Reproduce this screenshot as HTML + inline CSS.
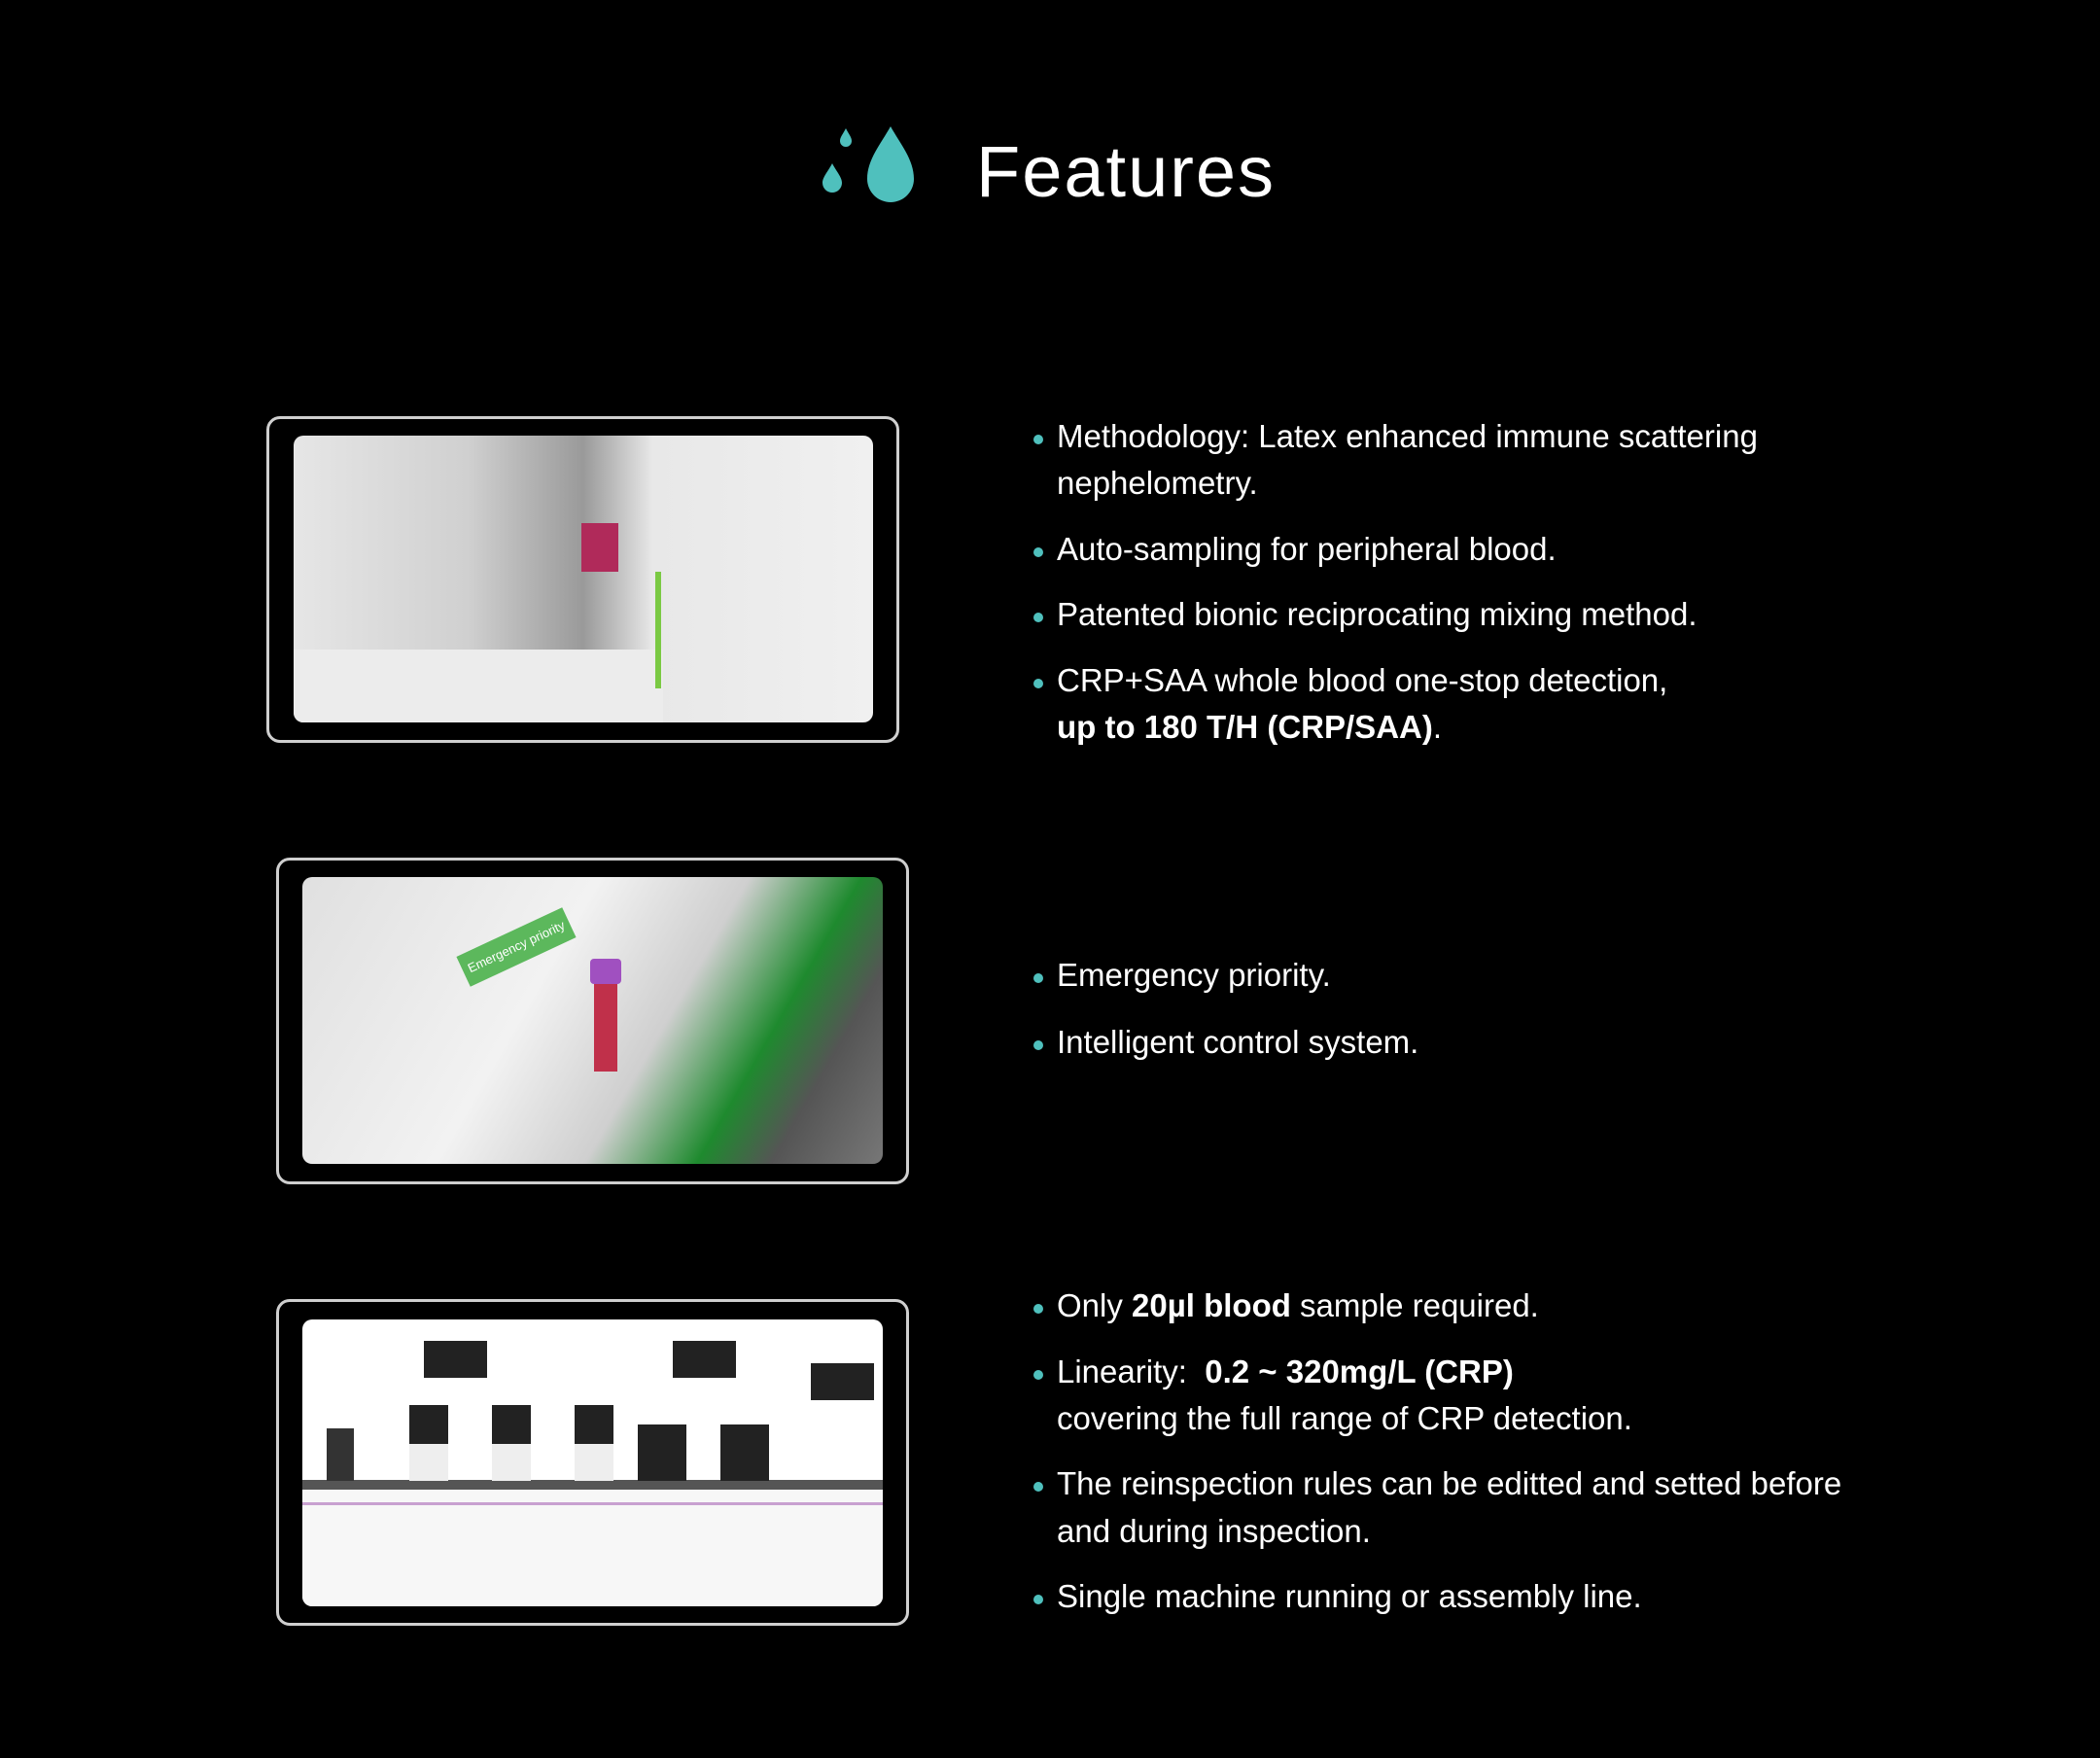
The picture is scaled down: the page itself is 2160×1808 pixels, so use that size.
<!DOCTYPE html>
<html><head><meta charset="utf-8"><style>
*{margin:0;padding:0;box-sizing:border-box}
body{width:2160px;height:1808px;background:#000;position:relative;overflow:hidden;font-family:"Liberation Sans",sans-serif;color:#fff}
.title{position:absolute;left:1004px;top:140px;font-size:74px;letter-spacing:2px;line-height:1}
.frame{position:absolute;border:3px solid #cfcfcf;border-radius:14px}
.img{position:absolute;border-radius:10px;overflow:hidden}
.t{position:absolute;left:1087px;font-size:33px;line-height:48px;white-space:nowrap}
.t::before{content:"";position:absolute;left:-24px;top:22px;width:10px;height:10px;border-radius:50%;background:#4fc0bd}
.c{position:absolute;left:1087px;font-size:33px;line-height:48px;white-space:nowrap}
b{font-weight:bold}
</style></head><body>
<svg style="position:absolute;left:840px;top:128px" width="115" height="90" viewBox="0 0 115 90">
<path d="M76 2 C66 20 52 36 52 56 A24 24 0 0 0 100 56 C100 36 86 20 76 2Z" fill="#4fc0bd"/>
<path d="M16 40 C12 48 6 54 6 60 A10 10 0 0 0 26 60 C26 54 20 48 16 40Z" fill="#4fc0bd"/>
<path d="M30 4 C27 10 24 13 24 17 A6 6 0 0 0 36 17 C36 13 33 10 30 4Z" fill="#4fc0bd"/>
</svg>
<div class="title">Features</div>

<div class="frame" style="left:274px;top:428px;width:651px;height:336px"></div>
<div class="img" style="left:302px;top:448px;width:596px;height:295px;background:linear-gradient(90deg,#e6e6e6 0%,#d0d0d0 30%,#9a9a9a 50%,#e8e8e8 62%,#f0f0f0 100%)">
<div style="position:absolute;left:296px;top:90px;width:38px;height:50px;background:#b02a5a"></div>
<div style="position:absolute;left:0;top:220px;width:380px;height:75px;background:#ececec"></div>
<div style="position:absolute;left:372px;top:140px;width:6px;height:120px;background:#7ac943"></div>
</div>

<div class="frame" style="left:284px;top:882px;width:651px;height:336px"></div>
<div class="img" style="left:311px;top:902px;width:597px;height:295px;background:linear-gradient(120deg,#e0e0e0 0%,#f2f2f2 40%,#cfcfcf 60%,#1e8a2e 75%,#555 85%,#777 100%)">
<div style="position:absolute;left:160px;top:55px;width:120px;height:34px;background:#5cb85c;transform:rotate(-25deg);color:#fff;font-size:13px;padding:9px 6px;white-space:nowrap">Emergency priority</div>
<div style="position:absolute;left:300px;top:100px;width:24px;height:100px;background:#c0304a"></div>
<div style="position:absolute;left:296px;top:84px;width:32px;height:26px;background:#a050c0;border-radius:4px"></div>
</div>

<div class="frame" style="left:284px;top:1336px;width:651px;height:336px"></div>
<div class="img" style="left:311px;top:1357px;width:597px;height:295px;background:#fff">
<div style="position:absolute;left:0;top:165px;width:597px;height:10px;background:#555"></div>
<div style="position:absolute;left:0;top:175px;width:597px;height:120px;background:#f7f7f7"></div>
<div style="position:absolute;left:0;top:188px;width:597px;height:3px;background:#c8a0d0"></div>
<div style="position:absolute;left:125px;top:22px;width:65px;height:38px;background:#222"></div>
<div style="position:absolute;left:381px;top:22px;width:65px;height:38px;background:#222"></div>
<div style="position:absolute;left:523px;top:45px;width:65px;height:38px;background:#222"></div>
<div style="position:absolute;left:110px;top:88px;width:40px;height:78px;background:#eee;border-top:40px solid #222"></div>
<div style="position:absolute;left:195px;top:88px;width:40px;height:78px;background:#eee;border-top:40px solid #222"></div>
<div style="position:absolute;left:280px;top:88px;width:40px;height:78px;background:#eee;border-top:40px solid #222"></div>
<div style="position:absolute;left:345px;top:108px;width:50px;height:58px;background:#222"></div>
<div style="position:absolute;left:430px;top:108px;width:50px;height:58px;background:#222"></div>
<div style="position:absolute;left:25px;top:112px;width:28px;height:54px;background:#333"></div>
</div>

<div class="t" style="top:425px">Methodology: Latex enhanced immune scattering</div>
<div class="c" style="top:473px">nephelometry.</div>
<div class="t" style="top:541px">Auto-sampling for peripheral blood.</div>
<div class="t" style="top:608px">Patented bionic reciprocating mixing method.</div>
<div class="t" style="top:676px">CRP+SAA whole blood one-stop detection,</div>
<div class="c" style="top:724px"><b>up to 180 T/H (CRP/SAA)</b>.</div>

<div class="t" style="top:979px">Emergency priority.</div>
<div class="t" style="top:1048px">Intelligent control system.</div>

<div class="t" style="top:1319px">Only <b>20µl blood</b> sample required.</div>
<div class="t" style="top:1387px">Linearity:&nbsp; <b>0.2 ~ 320mg/L (CRP)</b></div>
<div class="c" style="top:1435px">covering the full range of CRP detection.</div>
<div class="t" style="top:1502px">The reinspection rules can be editted and setted before</div>
<div class="c" style="top:1551px">and during inspection.</div>
<div class="t" style="top:1618px">Single machine running or assembly line.</div>
</body></html>
